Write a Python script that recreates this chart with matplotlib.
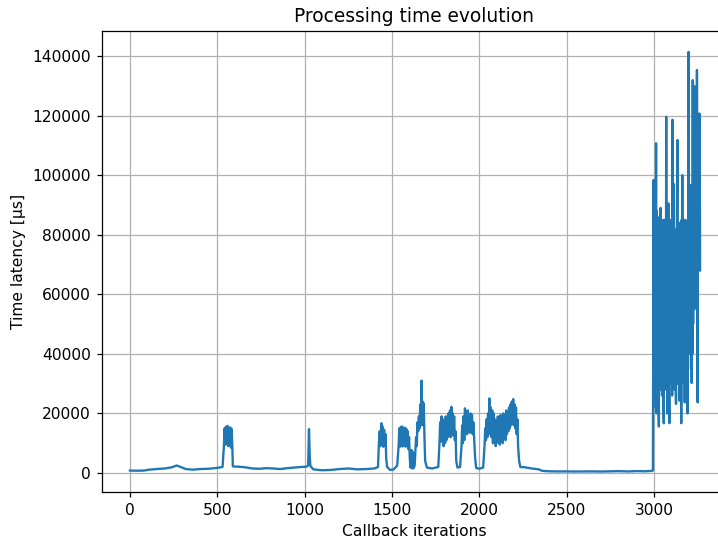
import matplotlib
matplotlib.use("Agg")
import matplotlib.pyplot as plt

iterations = [
    0, 40, 80, 110, 150, 200, 240, 268, 290, 320, 360, 400, 450, 500, 530,
    538, 542, 546, 550, 554, 558, 562, 566, 570, 574, 578, 582, 586, 589,
    620, 660, 700, 740, 780, 820, 860, 900, 940, 980, 1010, 1020, 1025, 1029, 1033,
    1050, 1100, 1150, 1200, 1250, 1300, 1350, 1400, 1420,
    1425, 1430, 1434, 1439, 1443, 1447, 1451, 1455, 1459, 1463, 1467, 1472, 1490, 1510, 1530,
    1538, 1542, 1546, 1550, 1554, 1558, 1562, 1566, 1570, 1574, 1578, 1582, 1586, 1590,
    1594, 1598, 1602, 1606, 1612, 1616, 1620, 1624, 1630,
    1638, 1642, 1646, 1650, 1654, 1658, 1662, 1666, 1669, 1672, 1675, 1678, 1682, 1686,
    1690, 1700, 1730, 1765,
    1772, 1776, 1780, 1784, 1788, 1792, 1796, 1800, 1804, 1808, 1812, 1816, 1820, 1824,
    1828, 1832, 1836, 1840, 1844, 1848, 1852, 1856, 1860, 1864, 1868, 1875, 1890,
    1898, 1902, 1906, 1910, 1914, 1918, 1922, 1926, 1930, 1934, 1938, 1942, 1946, 1950,
    1954, 1958, 1962, 1966, 1970, 1976, 1982, 2000, 2022,
    2030, 2034, 2038, 2042, 2046, 2050, 2054, 2058, 2062, 2066, 2070, 2074, 2078, 2082,
    2086, 2090, 2094, 2098, 2102, 2106, 2110, 2114, 2118, 2122, 2126, 2130, 2134, 2138,
    2142, 2146, 2150, 2154, 2158, 2162, 2166, 2170, 2174, 2178, 2182, 2186, 2190, 2194,
    2198, 2202, 2206, 2210, 2214, 2218, 2222, 2228, 2235,
    2260, 2300, 2340, 2360, 2400, 2450, 2500, 2550, 2600, 2650, 2700, 2750, 2800, 2850,
    2900, 2950, 2990,
    2994, 2996, 2998, 3000, 3002, 3004, 3006, 3008, 3010, 3012, 3014, 3016, 3018, 3020,
    3022, 3024, 3026, 3028, 3030, 3032, 3034, 3036, 3038, 3040, 3042, 3044, 3046, 3048,
    3050, 3052, 3054, 3056, 3058, 3060, 3062, 3064, 3066, 3068, 3070, 3072, 3074, 3076,
    3078, 3080, 3082, 3084, 3086, 3088, 3090, 3092, 3094, 3096, 3098, 3100, 3102, 3104,
    3106, 3108, 3110, 3112, 3114, 3116, 3118, 3120, 3122, 3124, 3126, 3128, 3130, 3132,
    3134, 3136, 3138, 3140, 3142, 3144, 3146, 3148, 3150, 3152, 3154, 3156, 3158, 3160,
    3162, 3164, 3166, 3168, 3170, 3172, 3174, 3176, 3178, 3180, 3182, 3184, 3186, 3188,
    3190, 3192, 3194, 3196, 3198, 3200, 3202, 3204, 3206, 3208, 3210, 3212, 3214, 3216,
    3218, 3220, 3222, 3224, 3226, 3228, 3230, 3232, 3234, 3236, 3238, 3240, 3242, 3244,
    3246, 3248, 3250, 3252, 3254, 3256, 3258, 3260, 3262, 3264,
]
latency_us = [
    800, 750, 800, 1100, 1300, 1500, 1900, 2500, 2000, 1300, 1100, 1300, 1400, 1700, 2000,
    9000, 15000, 9500, 15500, 10000, 15800, 9000, 15000, 10000, 15300, 8500, 14800, 9000, 2200,
    2100, 1900, 1500, 1400, 1600, 1500, 1300, 1600, 1800, 2000, 2100, 2500, 14700, 6000, 2300,
    1200, 900, 1000, 1300, 1500, 1200, 1300, 1500, 2000,
    10000, 14000, 9000, 16700, 10000, 15500, 8800, 14500, 9500, 13000, 5000, 2000, 1000, 1200, 2500,
    9000, 15000, 8800, 15400, 9000, 15600, 8900, 15000, 9500, 15200, 8800, 14800, 9200, 14000,
    8000, 12000, 5000, 1800, 7700, 1500, 7000, 1600, 2500,
    12000, 9000, 17000, 14000, 19000, 15000, 23000, 16000, 31000, 17000, 24000, 16000, 23400, 12000,
    4000, 1800, 1500, 2000,
    10000, 17000, 10500, 19000, 11000, 18000, 9000, 17500, 10000, 19000, 11000, 18500, 12000, 20000,
    13000, 21000, 12000, 22200, 13000, 20000, 12500, 19000, 11000, 14000, 4000, 1800, 2000,
    9000, 16000, 10000, 19000, 11000, 21700, 14000, 20000, 13000, 21000, 14000, 19000, 13500, 20000,
    14000, 19500, 13000, 17000, 12000, 5000, 1700, 1400, 1800,
    9000, 15000, 11000, 18000, 12000, 20000, 13000, 25000, 14000, 22000, 12000, 21000, 10000, 20000,
    12000, 18000, 9000, 17000, 11000, 19000, 10000, 18000, 9500, 19500, 11000, 17000, 10000, 20000,
    12000, 18000, 11000, 21000, 13000, 20000, 14000, 22000, 15000, 23000, 16000, 24000, 17000, 24800,
    16000, 23000, 15000, 22000, 13000, 18000, 9000, 4000, 2000,
    1900, 1500, 1200, 700, 550, 500, 520, 480, 500, 520, 480, 550, 600, 500,
    620, 550, 700,
    900, 60000, 98400, 22300, 85000, 30000, 90000, 25000, 70000, 110700, 20000, 88000, 35000, 86000,
    40000, 85000, 24000, 15600, 80000, 31000, 84000, 35000, 89000, 28000, 60000, 85000, 26000, 80000,
    28000, 70000, 25000, 16700, 85000, 35000, 80000, 30000, 60000, 28000, 119600, 32000, 75000, 20000,
    84000, 40000, 90500, 50000, 30000, 16700, 85000, 30000, 82000, 35000, 70000, 30000, 85000, 26000,
    118600, 40000, 85000, 30000, 97000, 45000, 82000, 28000, 80000, 35000, 23200, 80000, 40000, 85000,
    111800, 30000, 80000, 35000, 84000, 24300, 82700, 40000, 80000, 30000, 70000, 16700, 85000, 40000,
    100000, 50000, 85000, 37900, 80000, 30000, 75000, 23700, 85000, 35000, 80000, 45000, 70000, 25000,
    80000, 20000, 85000, 45000, 141400, 45800, 85000, 60000, 90000, 40000, 96700, 35000, 80000, 30200,
    75000, 40000, 131900, 50000, 85000, 60000, 130000, 55000, 90000, 60000, 128000, 65000, 85000, 60000,
    135300, 80000, 23700, 85000, 80000, 110000, 70000, 120700, 108000, 68000,
]

fig = plt.figure(figsize=(718 / 112, 541 / 112), dpi=112)
ax = fig.add_axes([102 / 718, 49 / 541, 625 / 718, 461 / 541])

ax.plot(iterations, latency_us, color="#1f77b4", linewidth=1.5)
ax.set_xlim(-160, 3418)
ax.set_ylim(-6400, 148400)
ax.set_xticks([0, 500, 1000, 1500, 2000, 2500, 3000])
ax.set_yticks(range(0, 140001, 20000))
ax.grid(True)

ax.set_title("Processing time evolution")
ax.set_xlabel("Callback iterations")
ax.set_ylabel("Time latency [µs]")

fig.savefig("out.png", dpi=112)
